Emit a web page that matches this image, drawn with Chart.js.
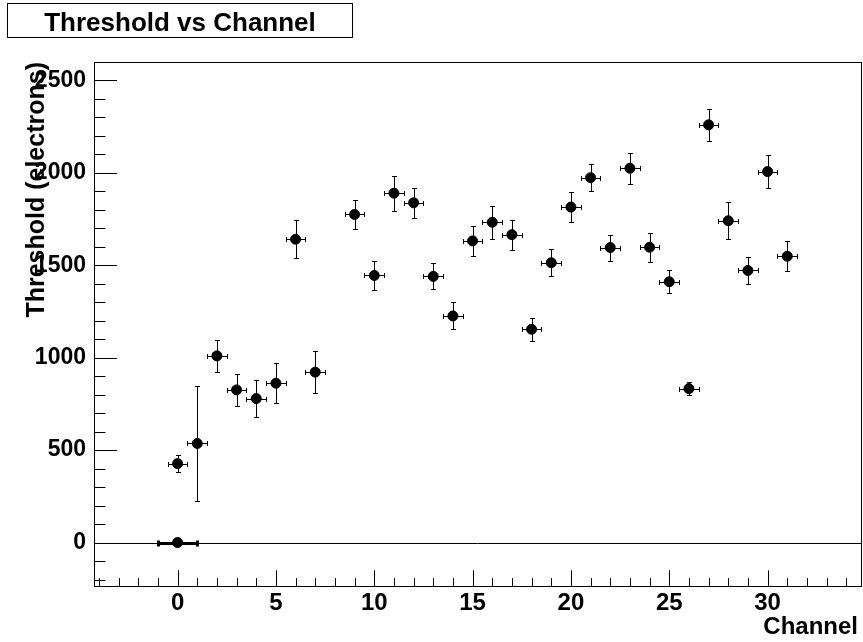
<!DOCTYPE html>
<html>
<head>
<meta charset="utf-8">
<title>Threshold vs Channel</title>
<script src="https://cdn.jsdelivr.net/npm/chart.js@4.4.0/dist/chart.umd.min.js"></script>
<style>
  html, body { margin: 0; padding: 0; background: #fff; overflow: hidden; }
  #wrap { width: 863px; height: 642px; position: relative; }
</style>
</head>
<body>
<div id="wrap"><canvas id="myChart"></canvas></div>
<script>
"use strict";

// measurements per channel (channel 8 has no entry)
const channels = [0, 1, 2, 3, 4, 5, 6, 7, 9, 10, 11, 12, 13, 14, 15, 16,
                  17, 18, 19, 20, 21, 22, 23, 24, 25, 26, 27, 28, 29, 30, 31];
const thresholds = [427, 536, 1010, 826, 779, 862, 1641, 922, 1775, 1445, 1890, 1838, 1440, 1226, 1632, 1733,
                    1666, 1154, 1514, 1815, 1974, 1596, 2025, 1598, 1411, 833, 2260, 1741, 1472, 2007, 1549];
const thresholdErrors = [47, 309, 87, 88, 99, 107, 102, 114, 79, 78, 95, 83, 70, 73, 82, 88,
                         81, 61, 72, 80, 73, 70, 83, 79, 63, 36, 88, 99, 75, 88, 80];
const channelErrors = [0.5, 0.5, 0.5, 0.5, 0.5, 0.5, 0.5, 0.5, 0.5, 0.5, 0.5, 0.5, 0.5, 0.5, 0.5, 0.5,
                       0.5, 0.5, 0.5, 0.5, 0.5, 0.5, 0.5, 0.5, 0.5, 0.5, 0.5, 0.5, 0.5, 0.5, 0.5];

// reference point at the origin
const originChannel = [0];
const originThreshold = [0];
const originChannelError = [1];
const originThresholdError = [0];

const xTickLabels = [0, 5, 10, 15, 20, 25, 30];
const yTickLabels = [0, 500, 1000, 1500, 2000, 2500];
const xRange = [-4.25, 34.75];
const yRange = [-235, 2600];

const FONT = '"Liberation Sans", Arial, Helvetica, sans-serif';

const toPoints = (xs, ys, exs, eys) => xs.map((v, i) => ({ x: v, y: ys[i], ex: exs[i], ey: eys[i] }));

const hline = (ctx, x1, x2, yy) => { ctx.beginPath(); ctx.moveTo(x1, yy); ctx.lineTo(x2, yy); ctx.stroke(); };
const vline = (ctx, xx, y1, y2) => { ctx.beginPath(); ctx.moveTo(xx, y1); ctx.lineTo(xx, y2); ctx.stroke(); };
const half = v => Math.round(v) + 0.5;

const rootStyle = {
  id: 'rootStyle',
  beforeDatasetsDraw(chart) {
    const { ctx, chartArea: a, scales: { x, y } } = chart;
    ctx.save();
    ctx.strokeStyle = '#000';
    ctx.lineWidth = 1;
    // line at zero threshold
    hline(ctx, a.left, a.right, half(y.getPixelForValue(0)));

    // error bars
    chart.data.datasets.forEach(ds => {
      const cap = ds.capSize;
      ctx.lineWidth = ds.errorWidth;
      ds.data.forEach(p => {
        const px = half(x.getPixelForValue(p.x));
        const py = half(y.getPixelForValue(p.y));
        if (p.ey > 0) {
          const top = half(y.getPixelForValue(p.y + p.ey));
          const bot = half(y.getPixelForValue(p.y - p.ey));
          vline(ctx, px, top, bot);
          hline(ctx, px - cap, px + cap, top);
          hline(ctx, px - cap, px + cap, bot);
        }
        if (p.ex > 0) {
          const l = half(x.getPixelForValue(p.x - p.ex));
          const r = half(x.getPixelForValue(p.x + p.ex));
          hline(ctx, l, r, py);
          vline(ctx, l, py - cap, py + cap);
          vline(ctx, r, py - cap, py + cap);
        }
      });
    });
    ctx.restore();
  },
  afterDraw(chart) {
    const { ctx, chartArea: a, scales: { x, y } } = chart;
    ctx.save();
    ctx.strokeStyle = '#000';
    ctx.lineWidth = 1;

    // frame
    ctx.strokeRect(half(a.left), half(a.top), Math.round(a.right - a.left), Math.round(a.bottom - a.top));

    // x ticks (inside, from the bottom)
    const xMajor = (a.bottom - a.top) * 0.03;
    for (let v = Math.ceil(xRange[0]); v <= xRange[1]; v++) {
      const len = v % 5 === 0 ? xMajor : xMajor / 2;
      vline(ctx, half(x.getPixelForValue(v)), a.bottom, a.bottom - len);
    }
    // y ticks (inside, from the left)
    const yMajor = (a.right - a.left) * 0.03;
    for (let v = Math.ceil(yRange[0] / 100) * 100; v <= yRange[1]; v += 100) {
      const len = v % 500 === 0 ? yMajor : yMajor / 2;
      hline(ctx, a.left, a.left + len, half(y.getPixelForValue(v)));
    }

    ctx.fillStyle = '#000';
    // axis titles
    ctx.font = 'bold 24px ' + FONT;
    ctx.textAlign = 'right';
    ctx.textBaseline = 'alphabetic';
    ctx.fillText('Channel', a.right - 3, 634);

    ctx.save();
    ctx.translate(44, a.top);
    ctx.rotate(-Math.PI / 2);
    ctx.font = 'bold 25px ' + FONT;
    ctx.textAlign = 'right';
    ctx.fillText('Threshold (electrons)', 0, 0);
    ctx.restore();

    // title box
    ctx.fillStyle = '#fff';
    ctx.fillRect(7, 3, 345, 34);
    ctx.strokeRect(7.5, 3.5, 345, 34);
    ctx.fillStyle = '#000';
    ctx.font = 'bold 26px ' + FONT;
    ctx.textAlign = 'center';
    ctx.fillText('Threshold vs Channel', 180, 31);
    ctx.restore();
  }
};

const ctx = document.getElementById('myChart');

new Chart(ctx, {
  type: 'scatter',
  data: {
    datasets: [
      {
        label: 'Threshold',
        data: toPoints(channels, thresholds, channelErrors, thresholdErrors),
        backgroundColor: '#000',
        borderColor: '#000',
        pointRadius: 5,
        pointHoverRadius: 5,
        errorWidth: 1,
        capSize: 2.5
      },
      {
        label: 'Origin',
        data: toPoints(originChannel, originThreshold, originChannelError, originThresholdError),
        backgroundColor: '#000',
        borderColor: '#000',
        pointRadius: 5,
        pointHoverRadius: 5,
        errorWidth: 3,
        capSize: 3
      }
    ]
  },
  options: {
    responsive: true,
    maintainAspectRatio: false,
    animation: false,
    events: [],
    layout: { autoPadding: false, padding: { top: 62, right: 2, left: 0, bottom: 0 } },
    plugins: {
      legend: { display: false },
      title: { display: false },
      tooltip: { enabled: false }
    },
    scales: {
      x: {
        type: 'linear',
        min: xRange[0],
        max: xRange[1],
        grid: { display: false, drawTicks: false },
        border: { display: false },
        afterBuildTicks: scale => { scale.ticks = xTickLabels.map(v => ({ value: v })); },
        afterFit: scale => {
          scale.height = 56;
          scale.paddingLeft = 0;
          scale.paddingRight = 0;
        },
        ticks: {
          autoSkip: false,
          maxRotation: 0,
          padding: 3,
          color: '#000',
          callback: v => String(v),
          font: { family: FONT, size: 24, weight: 'bold' }
        }
      },
      y: {
        type: 'linear',
        min: yRange[0],
        max: yRange[1],
        grid: { display: false, drawTicks: false },
        border: { display: false },
        afterBuildTicks: scale => { scale.ticks = yTickLabels.map(v => ({ value: v })); },
        afterFit: scale => {
          scale.width = 94;
          scale.paddingTop = 0;
          scale.paddingBottom = 0;
        },
        ticks: {
          padding: 8,
          color: '#000',
          callback: v => String(v),
          font: { family: FONT, size: 23, weight: 'bold' }
        }
      }
    }
  },
  plugins: [rootStyle]
});
</script>
</body>
</html>
